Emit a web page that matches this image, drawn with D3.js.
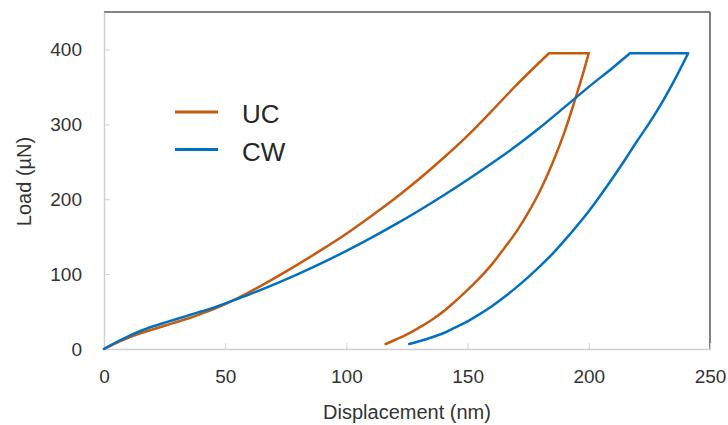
<!DOCTYPE html>
<html>
<head>
<meta charset="utf-8">
<script src="https://cdn.jsdelivr.net/npm/d3@7"></script>
<style>
  body { margin: 0; background: #fff; }
  svg { font-family: "Liberation Sans", Arial, sans-serif; }
  .tick text { fill: #333; font-size: 19px; }
  .label { fill: #333; font-size: 20px; }
  .legend text { fill: #262626; font-size: 26px; }
</style>
</head>
<body>
<svg width="728" height="425"></svg>
<script>
// displacement (nm) / load (µN)
// loading branch, ends at peak load
const ucLoadDisp = [0, 5, 10, 15, 20, 25, 30, 35, 40, 45, 50, 60, 70, 80, 90, 100, 110, 120, 130, 140, 150, 160, 170, 183.6];
const ucLoadLoad = [0, 8, 15, 21, 26, 31, 36, 41, 47, 53, 60, 76, 94, 113, 133, 154, 177, 201, 227, 255, 285, 318, 352, 395];
// unloading branch (sorted by displacement), starts after the hold
const ucUnloadDisp = [116.2, 120, 125, 130, 135, 140, 145, 150, 155, 160, 165, 170, 175, 180, 185, 190, 195, 198, 200];
const ucUnloadLoad = [6.7, 12, 19.5, 28.5, 38.5, 50, 64, 79, 95, 113, 134, 156, 182, 212, 248, 290, 340, 372, 395];

const cwLoadDisp = [0, 5, 10, 15, 20, 25, 30, 35, 40, 45, 50, 60, 70, 80, 90, 100, 110, 120, 130, 140, 150, 160, 170, 180, 190, 200, 210, 217];
const cwLoadLoad = [0, 9, 17, 24, 30, 35, 40, 45, 50, 55, 61, 73, 86, 100, 115, 131, 148, 166, 185, 205, 226, 248, 271, 296, 323, 350, 376, 395];
const cwUnloadDisp = [125.9, 130, 135, 140, 145, 150, 155, 160, 165, 170, 175, 180, 185, 190, 195, 200, 205, 210, 215, 220, 225, 230, 235, 241];
const cwUnloadLoad = [6.7, 10.3, 15.3, 21, 29, 37, 46.5, 57, 69, 82, 96, 111, 127, 145, 164, 184, 206, 229, 253, 278, 302, 328, 357, 395];

const seriesNames = ["UC", "CW"];
const seriesColors = ["#C55A11", "#0070C0"];
const xTicks = [0, 50, 100, 150, 200, 250];
const yTicks = [0, 100, 200, 300, 400];

const svg = d3.select("svg");
const margin = { left: 104, top: 12, right: 18, bottom: 76 };
const width = 728 - margin.left - margin.right;
const height = 425 - margin.top - margin.bottom;

const x = d3.scaleLinear().domain([0, 250]).range([0, width]);
const y = d3.scaleLinear().domain([0, 450]).range([height, 0]);

const chart = svg.append("g").attr("transform", `translate(${margin.left},${margin.top})`);

// frame: top and right darker
chart.append("line").attr("x1", 0).attr("x2", width).attr("y1", 0).attr("y2", 0)
  .attr("stroke", "#595959").attr("stroke-width", 1.5);
chart.append("line").attr("x1", width).attr("x2", width).attr("y1", 0).attr("y2", height)
  .attr("stroke", "#595959").attr("stroke-width", 1.5);

const xAxis = chart.append("g")
  .attr("transform", `translate(0,${height})`)
  .call(d3.axisBottom(x).tickValues(xTicks).tickSizeInner(-6).tickSizeOuter(0));
xAxis.selectAll(".tick text").attr("y", 34).attr("dy", 0);

const yAxis = chart.append("g")
  .call(d3.axisLeft(y).tickValues(yTicks).tickSizeInner(-6).tickSizeOuter(0).tickPadding(22));
yAxis.selectAll(".tick text").attr("dy", "0.33em");

chart.selectAll(".domain").attr("stroke", "#d0d0d0").attr("stroke-width", 1.5);
chart.selectAll(".tick line").attr("stroke", "#d0d0d0");

const smooth = d3.line().x(d => x(d[0])).y(d => y(d[1])).curve(d3.curveMonotoneX);

const series = [
  { load: d3.zip(ucLoadDisp, ucLoadLoad), unload: d3.zip(ucUnloadDisp, ucUnloadLoad) },
  { load: d3.zip(cwLoadDisp, cwLoadLoad), unload: d3.zip(cwUnloadDisp, cwUnloadLoad) }
];

// one path per series: smooth loading, straight hold, smooth unloading
series.forEach((s, i) => {
  const peakA = s.load[s.load.length - 1];
  const peakB = s.unload[s.unload.length - 1];
  const unloadPath = smooth(s.unload.slice().reverse());
  const path = smooth(s.load) + "L" + x(peakB[0]) + "," + y(peakB[1]) + unloadPath.replace(/^M[^A-Za-z]*/, "");
  chart.append("path")
    .attr("fill", "none")
    .attr("stroke", seriesColors[i])
    .attr("stroke-width", 2.5)
    .attr("stroke-linejoin", "round")
    .attr("stroke-linecap", "round")
    .attr("d", path);
});

// axis titles
svg.append("text")
  .attr("class", "label")
  .attr("x", margin.left + width / 2)
  .attr("y", 419)
  .attr("text-anchor", "middle")
  .text("Displacement (nm)");

svg.append("text")
  .attr("class", "label")
  .attr("transform", `translate(31,${margin.top + height / 2 + 1}) rotate(-90)`)
  .attr("text-anchor", "middle")
  .text("Load (µN)");

// legend
const legend = svg.append("g").attr("class", "legend");
const items = legend.selectAll("g")
  .data(seriesNames)
  .enter()
  .append("g")
  .attr("transform", (d, i) => `translate(175,${112 + i * 37.5})`);
items.append("line")
  .attr("x1", 0).attr("x2", 43)
  .attr("stroke", (d, i) => seriesColors[i])
  .attr("stroke-width", 3);
items.append("text")
  .attr("x", 67)
  .attr("y", 11)
  .text(d => d);
</script>
</body>
</html>
